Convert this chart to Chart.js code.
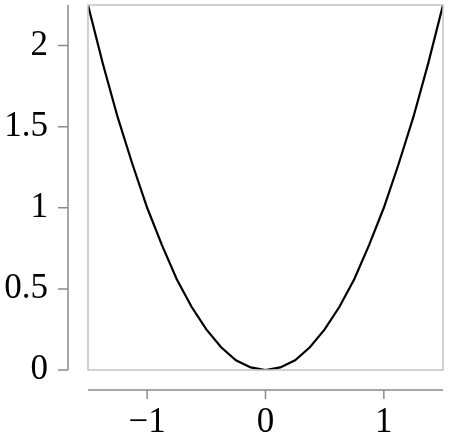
<!DOCTYPE html>
<html>
<head>
<meta charset="utf-8">
<script src="https://cdn.jsdelivr.net/npm/chart.js@4"></script>
<style>
  html, body { margin: 0; padding: 0; background: #fff; }
</style>
</head>
<body>
<canvas id="parabola" width="449" height="437"></canvas>
<script>
// points of the curve
var xValues = [-1.5, -1.375, -1.25, -1.125, -1, -0.875, -0.75, -0.625, -0.5, -0.375, -0.25, -0.125, 0,
               0.125, 0.25, 0.375, 0.5, 0.625, 0.75, 0.875, 1, 1.125, 1.25, 1.375, 1.5];
var yValues = [2.25, 1.89, 1.56, 1.27, 1, 0.77, 0.56, 0.39, 0.25, 0.14, 0.06, 0.016, 0,
               0.016, 0.06, 0.14, 0.25, 0.39, 0.56, 0.77, 1, 1.27, 1.56, 1.89, 2.25];
var xTicks = [-1, 0, 1];
var yTicks = [0, 0.5, 1, 1.5, 2];

var points = [];
for (var i = 0; i < xValues.length; i++) {
    points.push({ x: xValues[i], y: yValues[i] });
}

var labelFont = { family: '"Liberation Serif", "DejaVu Serif", serif', size: 35 };

// draws the light box round the plot and the detached axes with their ticks
var axesPlugin = {
    id: 'detachedAxes',
    afterDraw: function(chart) {
        var ctx = chart.ctx;
        var area = chart.chartArea;
        var xs = chart.scales.x;
        var ys = chart.scales.y;
        ctx.save();
        ctx.strokeStyle = '#c4c4c4';
        ctx.lineWidth = 1.5;
        ctx.strokeRect(area.left, area.top, area.right - area.left, area.bottom - area.top);

        ctx.strokeStyle = '#8a8a8a';
        ctx.lineWidth = 1.5;
        var yAxisX = area.left - 20;
        ctx.beginPath();
        ctx.moveTo(yAxisX, area.top);
        ctx.lineTo(yAxisX, area.bottom);
        yTicks.forEach(function(v) {
            var py = ys.getPixelForValue(v);
            ctx.moveTo(yAxisX - 10, py);
            ctx.lineTo(yAxisX, py);
        });
        var xAxisY = area.bottom + 20;
        ctx.moveTo(area.left, xAxisY);
        ctx.lineTo(area.right, xAxisY);
        xTicks.forEach(function(v) {
            var px = xs.getPixelForValue(v);
            ctx.moveTo(px, xAxisY);
            ctx.lineTo(px, xAxisY + 9);
        });
        ctx.stroke();
        ctx.restore();
    }
};

var ctx = document.getElementById('parabola');
var chart = new Chart(ctx, {
    type: 'scatter',
    data: {
        datasets: [{
            data: points,
            showLine: true,
            borderColor: '#000',
            borderWidth: 2.2,
            pointRadius: 0,
            tension: 0
        }]
    },
    options: {
        responsive: false,
        animation: false,
        layout: { padding: { top: 5, right: 6, left: 0, bottom: 0 } },
        plugins: {
            legend: { display: false },
            tooltip: { enabled: false }
        },
        scales: {
            x: {
                type: 'linear',
                min: -1.5,
                max: 1.5,
                grid: { display: false, drawTicks: false },
                border: { display: false },
                afterBuildTicks: function(scale) {
                    scale.ticks = xTicks.map(function(v) { return { value: v }; });
                },
                afterFit: function(scale) {
                    scale.height = 67;
                    scale.paddingLeft = 0;
                    scale.paddingRight = 0;
                    scale.paddingTop = 0;
                    scale.paddingBottom = 0;
                },
                ticks: {
                    padding: 32,
                    color: '#000',
                    font: labelFont,
                    maxRotation: 0,
                    callback: function(v) { return String(v).replace('-', '\u2212'); }
                }
            },
            y: {
                type: 'linear',
                min: 0,
                max: 2.25,
                grid: { display: false, drawTicks: false },
                border: { display: false },
                afterBuildTicks: function(scale) {
                    scale.ticks = yTicks.map(function(v) { return { value: v }; });
                },
                afterFit: function(scale) {
                    scale.width = 88;
                    scale.paddingTop = 0;
                    scale.paddingBottom = 0;
                    scale.paddingLeft = 0;
                    scale.paddingRight = 0;
                },
                ticks: {
                    padding: 40,
                    color: '#000',
                    font: labelFont,
                    callback: function(v) { return String(v); }
                }
            }
        }
    },
    plugins: [axesPlugin]
});
</script>
</body>
</html>
